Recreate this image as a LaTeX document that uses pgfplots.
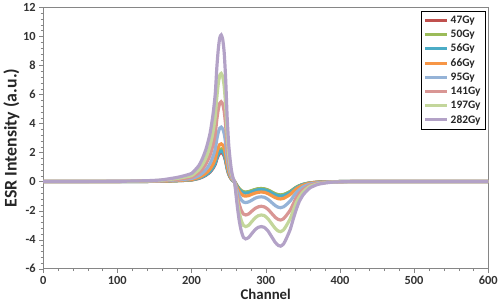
\documentclass[border=0pt]{standalone}
\usepackage{pgfplots}
\usepackage{pgfplotstable}
\pgfplotsset{compat=1.18}
\usepackage{fontspec}
\setmainfont{Carlito}

\definecolor{c47}{HTML}{C0504D}
\definecolor{c50}{HTML}{9BBB59}
\definecolor{c56}{HTML}{4BACC6}
\definecolor{c66}{HTML}{F79646}
\definecolor{c95}{HTML}{95B3D7}
\definecolor{c141}{HTML}{D99694}
\definecolor{c197}{HTML}{C3D69B}
\definecolor{c282}{HTML}{B3A2C7}
\definecolor{axgray}{HTML}{868686}

% ESR spectra, one column per dose
\pgfplotstableread{
x a47 a50 a56 a66 a95 a141 a197 a282
0 0 0 0 0 0 0 0 0
100 0.00 0.00 0.00 0.01 0.01 0.01 0.01 0.02
140 0.01 0.01 0.01 0.02 0.02 0.03 0.04 0.06
160 0.02 0.03 0.03 0.03 0.05 0.07 0.09 0.12
180 0.06 0.06 0.06 0.07 0.11 0.15 0.21 0.28
190 0.08 0.09 0.08 0.10 0.15 0.22 0.30 0.40
200 0.11 0.12 0.12 0.14 0.21 0.30 0.41 0.56
205 0.16 0.18 0.17 0.21 0.30 0.44 0.60 0.81
210 0.22 0.25 0.23 0.29 0.41 0.61 0.82 1.11
215 0.32 0.36 0.34 0.42 0.60 0.88 1.19 1.62
220 0.46 0.52 0.48 0.60 0.86 1.27 1.71 2.32
225 0.66 0.74 0.69 0.86 1.24 1.82 2.46 3.33
229 0.92 1.04 0.97 1.20 1.73 2.53 3.43 4.65
232 1.20 1.35 1.26 1.56 2.25 3.30 4.47 6.06
234 1.54 1.73 1.62 2.00 2.89 4.24 5.74 7.78
236 1.80 2.03 1.89 2.34 3.38 4.95 6.71 9.09
238 1.96 2.21 2.06 2.55 3.68 5.39 7.30 9.90
240 2.00 2.25 2.10 2.60 3.75 5.50 7.45 10.10
242 1.94 2.18 2.04 2.52 3.64 5.34 7.23 9.80
244 1.76 1.98 1.85 2.29 3.30 4.84 6.56 8.89
246 1.40 1.58 1.47 1.82 2.63 3.85 5.22 7.07
248 0.88 0.99 0.92 1.14 1.65 2.42 3.28 4.44
250 0.52 0.59 0.55 0.68 0.98 1.43 1.94 2.63
252 0.30 0.34 0.32 0.39 0.56 0.83 1.12 1.52
254 0.14 0.16 0.15 0.18 0.26 0.39 0.52 0.71
256 0.05 0.06 0.05 0.07 0.09 0.14 0.19 0.25
258 0 0 0 0 0 0 0 0
261 -0.27 -0.25 -0.28 -0.35 -0.51 -0.81 -1.10 -1.40
264 -0.49 -0.47 -0.53 -0.66 -0.95 -1.51 -2.04 -2.60
267 -0.65 -0.62 -0.69 -0.86 -1.25 -1.98 -2.67 -3.40
270 -0.73 -0.70 -0.78 -0.98 -1.41 -2.24 -3.02 -3.85
273 -0.75 -0.72 -0.80 -1.00 -1.45 -2.30 -3.10 -3.95
277 -0.72 -0.69 -0.77 -0.97 -1.40 -2.23 -3.01 -3.85
281 -0.65 -0.62 -0.70 -0.88 -1.29 -2.05 -2.77 -3.60
286 -0.56 -0.54 -0.61 -0.79 -1.14 -1.84 -2.49 -3.30
290 -0.51 -0.49 -0.56 -0.74 -1.07 -1.74 -2.35 -3.15
294 -0.50 -0.48 -0.55 -0.72 -1.05 -1.70 -2.30 -3.10
298 -0.52 -0.50 -0.57 -0.74 -1.08 -1.74 -2.34 -3.15
303 -0.60 -0.58 -0.65 -0.83 -1.22 -1.91 -2.56 -3.40
308 -0.73 -0.71 -0.78 -0.97 -1.44 -2.19 -2.90 -3.80
313 -0.87 -0.84 -0.92 -1.11 -1.66 -2.47 -3.24 -4.20
317 -0.93 -0.90 -0.98 -1.18 -1.77 -2.61 -3.41 -4.40
320 -0.95 -0.92 -1.00 -1.20 -1.80 -2.65 -3.45 -4.45
324 -0.92 -0.89 -0.97 -1.16 -1.74 -2.56 -3.33 -4.30
328 -0.83 -0.81 -0.88 -1.05 -1.58 -2.32 -3.02 -3.90
333 -0.70 -0.68 -0.74 -0.89 -1.34 -1.97 -2.56 -3.30
337 -0.55 -0.54 -0.58 -0.70 -1.05 -1.55 -2.01 -2.60
341 -0.41 -0.39 -0.43 -0.51 -0.77 -1.13 -1.47 -1.95
345 -0.30 -0.29 -0.32 -0.38 -0.57 -0.83 -1.09 -1.40
350 -0.20 -0.20 -0.21 -0.26 -0.38 -0.56 -0.73 -0.95
355 -0.14 -0.13 -0.15 -0.18 -0.26 -0.39 -0.50 -0.65
360 -0.09 -0.09 -0.09 -0.11 -0.17 -0.25 -0.32 -0.42
370 -0.04 -0.04 -0.05 -0.05 -0.08 -0.12 -0.16 -0.20
380 -0.02 -0.02 -0.02 -0.03 -0.04 -0.06 -0.08 -0.10
390 -0.01 -0.01 -0.01 -0.01 -0.02 -0.02 -0.03 -0.04
400 0 0 0 -0.01 -0.01 -0.01 -0.02 -0.02
420 0 0 0 0 0 0 0 0
500 0 0 0 0 0 0 0 0
600 0 0 0 0 0 0 0 0
}\esr

\begin{document}
\begin{tikzpicture}
  \begin{axis}[
    scale only axis, width=448bp, height=263bp,
    xmin=0, xmax=600, ymin=-6, ymax=12,
    xtick={0,100,...,600}, ytick={-6,-4,...,12},
    minor x tick num=4, minor y tick num=4,
    xtick pos=bottom, ytick pos=left, tick align=outside,
    major tick length=4bp, minor tick length=2.5bp,
    axis line style={axgray}, tick style={axgray},
    every tick label/.append style={font=\fontsize{12.5}{14}\selectfont\bfseries, text=black!80},
    /pgf/number format/assume math mode=true,
    xlabel={Channel}, ylabel={ESR Intensity (a.u.)},
    xlabel style={font=\fontsize{15}{17}\selectfont\bfseries, text=black!85, yshift=2bp},
    ylabel style={font=\fontsize{18}{20}\selectfont\bfseries, text=black!85, yshift=-3bp},
    legend style={at={(0.993,0.985)}, anchor=north east, draw=black, thin,
      font=\fontsize{11.5}{13}\selectfont\bfseries, text=black!85,
      row sep=1.2bp, inner sep=2.5bp},
    legend cell align=left,
    legend image code/.code={\draw[#1, line width=3bp] (0bp,0bp) -- (22bp,0bp);},
    every axis plot/.append style={line width=3.2bp, smooth, tension=0.4},
  ]
    \addplot[c47] table[x=x, y=a47] {\esr};
    \addplot[c50] table[x=x, y=a50] {\esr};
    \addplot[c56] table[x=x, y=a56] {\esr};
    \addplot[c66] table[x=x, y=a66] {\esr};
    \addplot[c95] table[x=x, y=a95] {\esr};
    \addplot[c141] table[x=x, y=a141] {\esr};
    \addplot[c197] table[x=x, y=a197] {\esr};
    \addplot[c282] table[x=x, y=a282] {\esr};
    \legend{47Gy, 50Gy, 56Gy, 66Gy, 95Gy, 141Gy, 197Gy, 282Gy}
  \end{axis}
\end{tikzpicture}
\end{document}
